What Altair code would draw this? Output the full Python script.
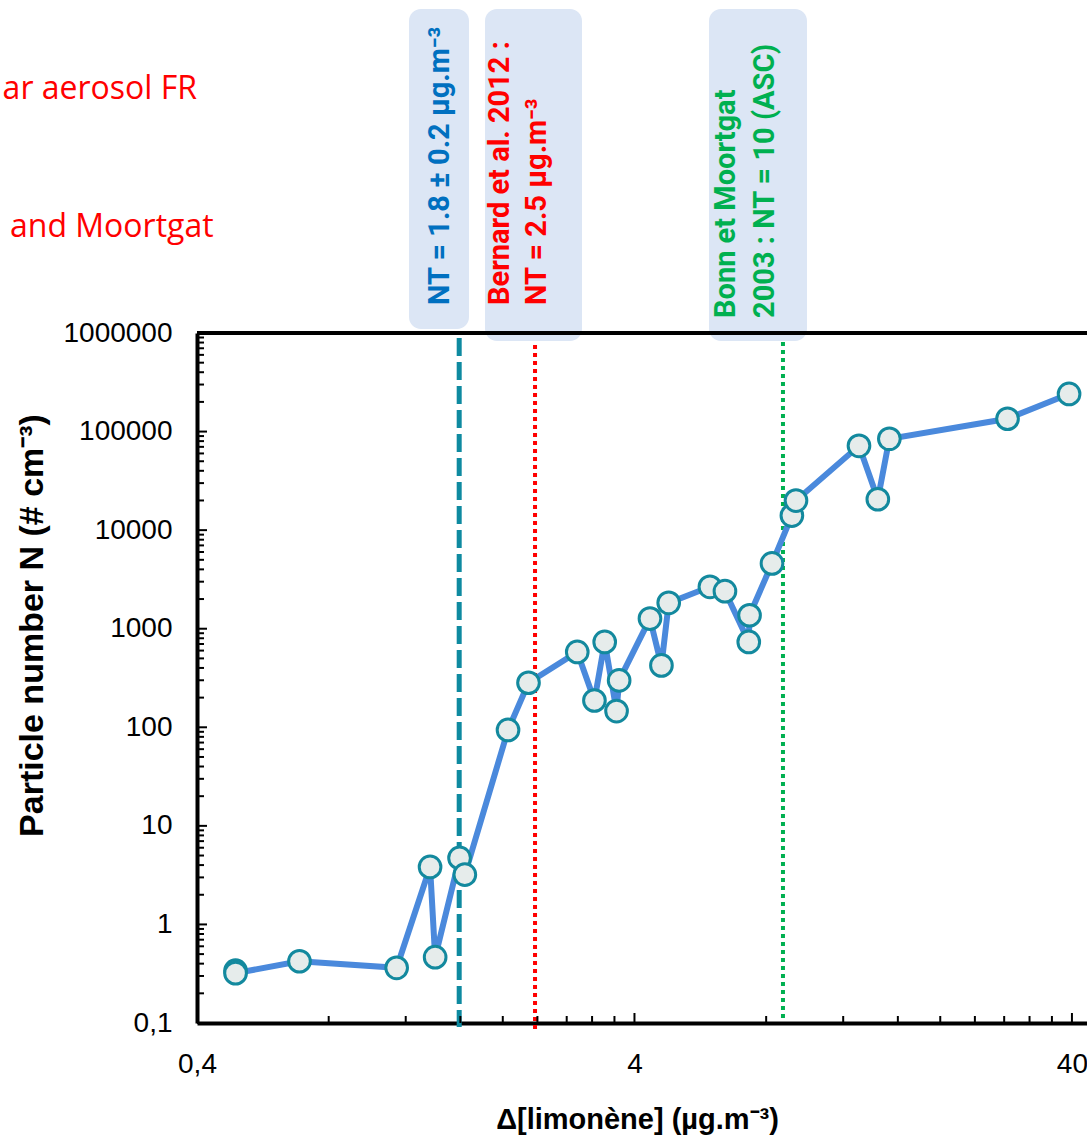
import altair as alt
import pandas as pd

# ---- data ----
conc = [0.49, 0.49, 0.686, 1.144, 1.364, 1.401, 1.593, 1.638, 2.056, 2.29,
        2.96, 3.24, 3.42, 3.64, 3.69, 4.34, 4.61, 4.79, 5.95, 6.44,
        7.30, 7.33, 8.25, 9.16, 9.36, 13.04, 14.4, 15.3, 28.5, 39.4]
number = [0.34, 0.32, 0.423, 0.363, 3.83, 0.465, 4.73, 3.20, 94, 283,
          581, 187, 734, 146, 299, 1267, 424, 1830, 2662, 2403,
          734, 1369, 4593, 14050, 19950, 71700, 20570, 84500, 134900, 240900]

nt_this_work = [1.59]
nt_bernard = [2.37]
nt_bonn = [8.74]

x_major = [0.4, 4, 40]
x_minor = [0.8, 1.2, 1.6, 2.0, 2.4, 2.8, 3.2, 3.6, 8, 12, 16, 20, 24, 28, 32, 36]
y_major = [0.1, 1, 10, 100, 1000, 10000, 100000, 1000000]
y_minor = [m * d for d in [0.1, 1, 10, 100, 1000, 10000, 100000] for m in [2, 3, 4, 5, 6, 7, 8, 9]]

label_1 = "NT = 1.8 ± 0.2 µg.m⁻³"
label_2a = "Bernard et al. 2012 :"
label_2b = "NT = 2.5 µg.m⁻³"
label_3a = "Bonn et Moortgat"
label_3b = "2003 : NT = 10 (ASC)"
side_1 = "ar aerosol FR"
side_2 = "and Moortgat"

W, H = 890, 690

df = pd.DataFrame({"x": conc, "n": number, "i": list(range(len(conc)))})
one = pd.DataFrame({"k": [0]})

xscale = alt.Scale(type="log", domain=[0.4, 43.3], nice=False)
yscale = alt.Scale(type="log", domain=[0.1, 1000000], nice=False)

xaxis = alt.Axis(values=x_major, labelExpr="replace(toString(datum.value), '.', ',')",
                 ticks=False, tickSize=0, grid=False, domainColor="black", domainWidth=4,
                 labelFont="Liberation Sans", labelFontSize=28, labelColor="black",
                 labelPadding=27, labelFlush=False, labelOverlap=False, labelBaseline="top",
                 title="Δ[limonène] (µg.m⁻³)", titleFont="Liberation Sans", titleFontSize=29,
                 titleFontWeight="bold", titleColor="black", titleX=440, titleY=105,
                 titleAlign="center", titleBaseline="alphabetic")
yaxis = alt.Axis(values=y_major, labelExpr="replace(toString(datum.value), '.', ',')",
                 ticks=False, tickSize=0, grid=False, domainColor="black", domainWidth=4,
                 labelFont="Liberation Sans", labelFontSize=28, labelColor="black",
                 labelPadding=25, labelFlush=False, labelOverlap=False, labelBaseline="middle",
                 title="Particle number N (# cm⁻³)", titleFont="Liberation Sans", titleFontSize=34,
                 titleFontWeight="bold", titleColor="black", titleAngle=270, titleX=-165, titleY=292,
                 titleAlign="center", titleBaseline="middle")

X = alt.X("x:Q", scale=xscale, axis=xaxis)
Y = alt.Y("n:Q", scale=yscale, axis=yaxis)

layers = []

# annotation boxes
for (x1, x2, y1, y2) in [(212, 272, -324, -4), (288, 385, -324, 8), (512, 610, -324, 8)]:
    layers.append(alt.Chart(one).mark_rect(color="#DCE6F5", cornerRadius=12).encode(
        x=alt.value(x1), x2=alt.value(x2), y=alt.value(y1), y2=alt.value(y2)))

def vtext(txt, x, y, color):
    return alt.Chart(one).mark_text(angle=270, align="left", baseline="middle", font="Roboto",
                                    fontWeight="bold", fontSize=29, color=color).encode(
        x=alt.value(x), y=alt.value(y), text=alt.value(txt))

layers += [vtext(label_1, 243, -28, "#0070C0"),
           vtext(label_2a, 303, -28, "#FF0000"),
           vtext(label_2b, 340, -28, "#FF0000"),
           vtext(label_3a, 529, -15, "#00B050"),
           vtext(label_3b, 568, -15, "#00B050")]

layers.append(alt.Chart(one).mark_text(align="right", baseline="alphabetic", font="Open Sans",
                                       fontSize=32, color="#FF0000").encode(
    x=alt.value(0), y=alt.value(-234), text=alt.value(side_1)))
layers.append(alt.Chart(one).mark_text(align="left", baseline="alphabetic", font="Open Sans",
                                       fontSize=32, color="#FF0000").encode(
    x=alt.value(-187), y=alt.value(-96), text=alt.value(side_2)))

# threshold lines
def vline(vals, color, width, dash, y1, y2):
    return alt.Chart(pd.DataFrame({"x": vals})).mark_rule(
        color=color, strokeWidth=width, strokeDash=dash).encode(
        x=X, y=alt.value(y1), y2=alt.value(y2))

layers += [vline(nt_this_work, "#0E8AA0", 5, [18, 6], 5, 694),
           vline(nt_bernard, "#FF0000", 4, [4, 4], 12, 697),
           vline(nt_bonn, "#00B050", 4, [4, 4], 9, 689)]

# data line + points
layers.append(alt.Chart(df).mark_line(color="#4A89DC", strokeWidth=6).encode(
    x=X, y=Y, order="i:Q"))
layers.append(alt.Chart(df).mark_circle(size=470, color="#E6ECEB", opacity=1,
                                         stroke="#13899E", strokeWidth=3).encode(x=X, y=Y))

# inside ticks
def xticks(vals, length):
    return alt.Chart(pd.DataFrame({"x": vals})).mark_rule(color="black", strokeWidth=2).encode(
        x=X, y=alt.value(H), y2=alt.value(H - length))

def yticks(vals, length):
    return alt.Chart(pd.DataFrame({"n": vals})).mark_rule(color="black", strokeWidth=2).encode(
        y=Y, x=alt.value(0), x2=alt.value(length))

layers += [xticks(x_major, 10), xticks(x_minor, 7), yticks(y_major, 10), yticks(y_minor, 7)]

# top border
layers.append(alt.Chart(one).mark_rule(color="black", strokeWidth=4).encode(
    x=alt.value(0), x2=alt.value(W), y=alt.value(0)))

chart = alt.layer(*layers).properties(
    width=W, height=H,
    padding={"left": 197, "top": 333, "right": 0, "bottom": 112},
    autosize=alt.AutoSizeParams(type="none"),
    background="white",
).configure_view(stroke=None)

chart.save("out.html", embed_options={"renderer": "svg", "actions": False})
